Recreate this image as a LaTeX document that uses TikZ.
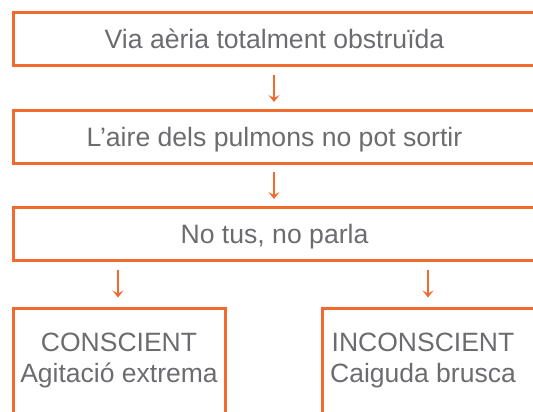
\documentclass[tikz,border=0pt]{standalone}
\usepackage{fontspec}
\setmainfont{Liberation Sans}
\usetikzlibrary{arrows.meta}
\definecolor{boxorange}{RGB}{242,106,46}
\definecolor{txtgrey}{RGB}{108,108,112}
\begin{document}
\begin{tikzpicture}[x=1pt,y=-1pt,
  wide/.style={draw=boxorange, line width=3pt, rectangle, inner sep=0pt,
    minimum width=523pt, minimum height=53pt, text=txtgrey,
    font=\fontsize{26.6}{30}\selectfont, text height=19pt, text depth=0pt},
  halfbox/.style={draw=boxorange, line width=3pt, rectangle, inner sep=0pt,
    minimum width=212pt, minimum height=140pt, anchor=north},
  boxtext/.style={text=txtgrey, align=center, inner sep=0pt, anchor=north,
    font=\fontsize{26.5}{30.5}\selectfont},
  arr/.style={draw=boxorange, line width=1.8pt,
    -{Stealth[length=7pt,width=11pt,inset=3pt]}}
]
\useasboundingbox (0,0) rectangle (533,412);
\clip (0,0) rectangle (533,412);
\node[wide] (b1) at (274.5,39.5) {Via aèria totalment obstruïda};
\node[wide] (b2) at (274.5,136.5) {L’aire dels pulmons no pot sortir};
\node[wide] (b3) at (274.5,233.5) {No tus, no parla};
\node[halfbox] (b4) at (119,307) {};
\node[halfbox, minimum width=216pt] (b5) at (430,307) {};
\node[boxtext] (t4) at (119,333) {CONSCIENT\\Agitació extrema};
\node[boxtext] (t5) at (423,333) {INCONSCIENT\\Caiguda brusca};
\coordinate (c1) at (274,0);
\coordinate (c4) at (118,0);
\coordinate (c5) at (428,0);
\draw[arr, shorten <=7.5pt, shorten >=6.5pt] (b1.south -| c1) -- (b2.north -| c1);
\draw[arr, shorten <=7.5pt, shorten >=6.5pt] (b2.south -| c1) -- (b3.north -| c1);
\draw[arr, shorten <=8.5pt, shorten >=9.5pt] (b3.south -| c4) -- (b4.north -| c4);
\draw[arr, shorten <=8.5pt, shorten >=9.5pt] (b3.south -| c5) -- (b5.north -| c5);
\end{tikzpicture}
\end{document}
